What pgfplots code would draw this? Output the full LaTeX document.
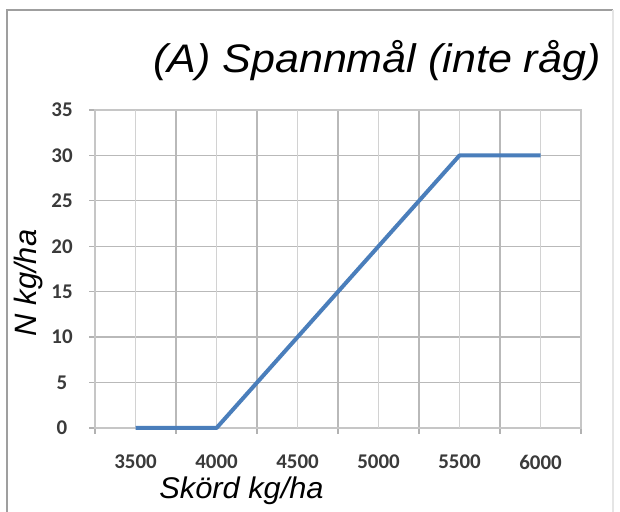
\documentclass[border=0pt]{standalone}
\usepackage{pgfplots}
\pgfplotsset{compat=1.18}
\usepackage{fontspec}
\setmainfont{Liberation Sans}
\newfontfamily\tickfont{Carlito}
\definecolor{excelblue}{HTML}{4A7EBB}
\definecolor{tickgray}{HTML}{3A3A3A}
\begin{document}
\begin{tikzpicture}[x=1bp,y=1bp]
\path[use as bounding box] (0,0) rectangle (620,512);
\draw[gray!75, line width=1.6bp] (7,-10) -- (7,502) -- (613,502);
\draw[gray!20, line width=1.6bp] (613,502) -- (613,-10);
\begin{axis}[
  at={(95bp,84bp)}, anchor=south west,
  scale only axis, width=486bp, height=318bp,
  xmin=3250, xmax=6250, ymin=0, ymax=35,
  axis line style={gray!45, line width=1.6bp},
  xtick={3250,3750,...,6250},
  xticklabels={},
  extra x ticks={3500,4000,...,6000},
  extra x tick labels={3500,4000,4500,5000,5500,6000},
  extra x tick style={major tick length=0pt, grid=major, major grid style={gray!35, line width=1.4bp}},
  ytick={0,5,...,35},
  tick align=outside,
  major tick length=6bp,
  tick style={gray!60, line width=1.3bp},
  xtick pos=bottom, ytick pos=left,
  grid=major,
  major grid style={gray!55, line width=1.3bp},
  /pgf/number format/assume math mode=true,
  /pgf/number format/1000 sep={},
  xticklabel style={font=\tickfont\bfseries\fontsize{21}{25}\selectfont, text=tickgray, anchor=center, inner sep=0pt, yshift=-34bp},
  yticklabel style={font=\tickfont\bfseries\fontsize{21}{25}\selectfont, text=tickgray, anchor=center, xshift=-27bp},
  clip=false,
]
\addplot[excelblue, line width=4bp, line cap=butt, line join=round] coordinates {(3500,0) (4000,0) (5500,30) (6000,30)};
\end{axis}
\node[anchor=base, inner sep=0pt, xscale=1.08, font=\itshape\fontsize{40}{48}\selectfont, anchor=base west] at (153,439) {(A) Spannmål (inte råg)};
\node[anchor=base, inner sep=0pt, xscale=1.03, font=\itshape\fontsize{30}{36}\selectfont] at (241.5,13) {Skörd kg/ha};
\node[rotate=90, anchor=center, inner sep=0pt, font=\itshape\fontsize{31}{37}\selectfont] at (29,229) {N kg/ha};
\end{tikzpicture}
\end{document}
